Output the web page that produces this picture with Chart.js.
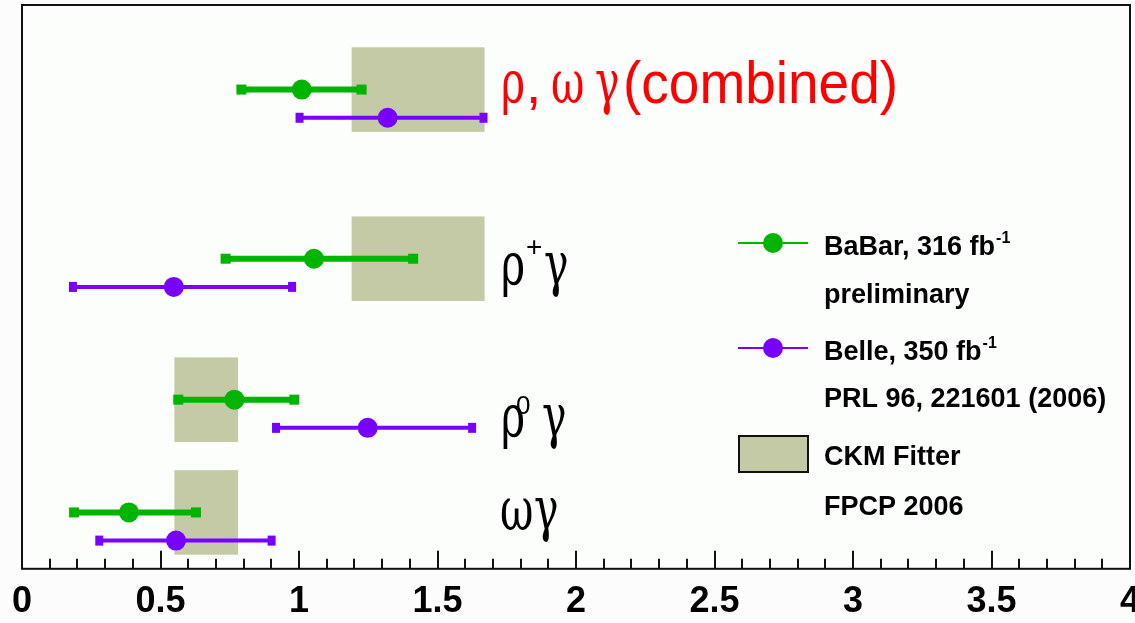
<!DOCTYPE html>
<html>
<head>
<meta charset="utf-8">
<script src="https://cdn.jsdelivr.net/npm/chart.js@4.4.1/dist/chart.umd.min.js"></script>
<style>
  html, body { margin: 0; padding: 0; background: #fbfcfb; overflow: hidden; }
  #wrap { position: relative; width: 1175px; height: 623px; }
</style>
</head>
<body>
<div id="wrap"><canvas id="chart"></canvas></div>
<script>
// channels, top to bottom: rho/omega combined, rho+, rho0, omega
const rowPos = [17, 11, 6, 2];   // vertical slot of each channel

// BaBar 316 fb-1 (preliminary)
const babarVal = [1.010, 1.054, 0.767, 0.386];
const babarLo  = [0.792, 0.735, 0.564, 0.188];
const babarHi  = [1.226, 1.412, 0.983, 0.628];

// Belle 350 fb-1
const belleVal = [1.320, 0.548, 1.248, 0.556];
const belleLo  = [1.002, 0.184, 0.917, 0.279];
const belleHi  = [1.666, 0.975, 1.625, 0.901];

// CKM Fitter (FPCP 2006) bands
const ckmLo = [1.19, 1.19, 0.55, 0.55];
const ckmHi = [1.67, 1.67, 0.78, 0.78];

const xTickLabels = ['0', '0.5', '1', '1.5', '2', '2.5', '3', '3.5', '4'];

const GREEN = '#00b400';
const PURPLE = '#7700ff';
const KHAKI = '#c5caa6';

function drawTxt(ctx, s, x, y, font, color, sx, sy) {
    ctx.save();
    ctx.translate(x, y);
    ctx.scale(sx || 1, sy || 1);
    ctx.font = font;
    ctx.fillStyle = color;
    ctx.textAlign = 'left';
    ctx.textBaseline = 'alphabetic';
    ctx.fillText(s, 0, 0);
    ctx.restore();
}

const GREEK = '41px "DejaVu Serif"';
const GSY = 1.48;
const GSX = 1.0;

const background = {
    id: 'background',
    beforeDraw(chart) {
        const { ctx, chartArea: a } = chart;
        ctx.save();
        ctx.fillStyle = '#fcfefc';
        ctx.fillRect(a.left, a.top, a.right - a.left, a.bottom - a.top);
        ctx.restore();
    }
};

// khaki CKM bands, then the error bars on top of them
const bandsAndBars = {
    id: 'bandsAndBars',
    beforeDatasetsDraw(chart) {
        const { ctx, scales: { x, y } } = chart;
        ctx.save();
        ctx.fillStyle = KHAKI;
        for (let i = 0; i < rowPos.length; i++) {
            const x0 = x.getPixelForValue(ckmLo[i]);
            const x1 = x.getPixelForValue(ckmHi[i]);
            const y0 = y.getPixelForValue(rowPos[i] + 1.5);
            const y1 = y.getPixelForValue(rowPos[i] - 1.5);
            ctx.fillRect(x0, y0, x1 - x0, y1 - y0);
        }

        const series = [
            { lo: babarLo, hi: babarHi, off: 0, color: GREEN, lw: 6, cw: 10, ch: 10 },
            { lo: belleLo, hi: belleHi, off: -1, color: PURPLE, lw: 4, cw: 8, ch: 10 }
        ];
        series.forEach(s => {
            ctx.strokeStyle = s.color;
            ctx.fillStyle = s.color;
            ctx.lineWidth = s.lw;
            for (let i = 0; i < rowPos.length; i++) {
                const py = y.getPixelForValue(rowPos[i] + s.off);
                const a = x.getPixelForValue(s.lo[i]);
                const b = x.getPixelForValue(s.hi[i]);
                ctx.beginPath();
                ctx.moveTo(a, py);
                ctx.lineTo(b, py);
                ctx.stroke();
                ctx.fillRect(a - s.cw / 2, py - s.ch / 2, s.cw, s.ch);
                ctx.fillRect(b - s.cw / 2, py - s.ch / 2, s.cw, s.ch);
            }
        });
        ctx.restore();
    }
};

const frameAndText = {
    id: 'frameAndText',
    afterDraw(chart) {
        const { ctx, chartArea: a, scales: { x } } = chart;
        ctx.save();
        // frame
        ctx.strokeStyle = '#111';
        ctx.lineWidth = 2;
        ctx.strokeRect(a.left, a.top, a.right - a.left, a.bottom - a.top);
        // inward ticks
        x.ticks.forEach(t => {
            const k = t.value * 2;
            const major = Math.abs(k - Math.round(k)) < 1e-6;
            const px = Math.round(x.getPixelForValue(t.value));
            ctx.beginPath();
            ctx.moveTo(px, a.bottom);
            ctx.lineTo(px, a.bottom - (major ? 18 : 10));
            ctx.stroke();
        });

        // channel labels
        const red = '#ff0000', blk = '#000';
        const sans55 = '55px "Liberation Sans"';
        drawTxt(ctx, 'ρ', 501, 103, GREEK, red, GSX, GSY);
        drawTxt(ctx, ',', 526, 103, sans55, red);
        drawTxt(ctx, 'ω', 551, 103, GREEK, red, GSX, GSY);
        drawTxt(ctx, 'γ', 595, 103, GREEK, red, GSX, GSY);
        drawTxt(ctx, '(combined)', 623, 103, sans55, red, 1, 1.08);

        drawTxt(ctx, 'ρ', 501, 285, GREEK, blk, GSX, GSY);
        drawTxt(ctx, '+', 526, 256, '28px "Liberation Sans"', blk);
        drawTxt(ctx, 'γ', 544, 285, GREEK, blk, GSX, GSY);

        drawTxt(ctx, 'ρ', 501, 437, GREEK, blk, GSX, GSY);
        drawTxt(ctx, '0', 516, 414, '26px "Liberation Sans"', blk, 1, 1.0);
        drawTxt(ctx, 'γ', 542, 437, GREEK, blk, GSX, GSY);

        drawTxt(ctx, 'ω', 500, 530, GREEK, blk, GSX, GSY);
        drawTxt(ctx, 'γ', 534, 530, GREEK, blk, GSX, GSY);

        // legend
        const lf = 'bold 27px "Liberation Sans"';
        const sf = 'bold 16px "Liberation Sans"';
        const supText = (s, x0, y0) => {
            drawTxt(ctx, s, x0, y0, lf, blk);
            ctx.font = lf;
            const w = ctx.measureText(s).width;
            drawTxt(ctx, '-1', x0 + w + 1, y0 - 12, sf, blk);
        };
        [[GREEN, 243], [PURPLE, 348]].forEach(([c, ly]) => {
            ctx.strokeStyle = c;
            ctx.lineWidth = 2;
            ctx.beginPath();
            ctx.moveTo(738, ly);
            ctx.lineTo(808, ly);
            ctx.stroke();
            ctx.fillStyle = c;
            ctx.beginPath();
            ctx.arc(773, ly, 10, 0, Math.PI * 2);
            ctx.fill();
        });
        supText('BaBar, 316 fb', 824, 255);
        drawTxt(ctx, 'preliminary', 824, 303, lf, blk);
        supText('Belle, 350 fb', 824, 360);
        drawTxt(ctx, 'PRL 96, 221601 (2006)', 824, 407, lf, blk);

        ctx.fillStyle = KHAKI;
        ctx.fillRect(739, 436, 69, 36);
        ctx.strokeStyle = '#111';
        ctx.lineWidth = 2;
        ctx.strokeRect(739, 436, 69, 36);
        drawTxt(ctx, 'CKM Fitter', 824, 465, lf, blk);
        drawTxt(ctx, 'FPCP 2006', 824, 515, lf, blk);
        ctx.restore();
    }
};

const ctx = document.getElementById('chart').getContext('2d');
const chart = new Chart(ctx, {
    type: 'scatter',
    data: {
        datasets: [
            {
                label: 'BaBar, 316 fb-1',
                data: babarVal.map((v, i) => ({ x: v, y: rowPos[i] })),
                pointRadius: 10,
                pointHoverRadius: 10,
                backgroundColor: GREEN,
                borderWidth: 0
            },
            {
                label: 'Belle, 350 fb-1',
                data: belleVal.map((v, i) => ({ x: v, y: rowPos[i] - 1 })),
                pointRadius: 10,
                pointHoverRadius: 10,
                backgroundColor: PURPLE,
                borderWidth: 0
            }
        ]
    },
    options: {
        responsive: true,
        maintainAspectRatio: false,
        animation: false,
        events: [],
        layout: { autoPadding: false, padding: { left: 22, right: 45, top: 5, bottom: -13 } },
        plugins: {
            legend: { display: false },
            tooltip: { enabled: false }
        },
        scales: {
            x: {
                type: 'linear',
                min: 0,
                max: 4,
                grid: { display: false, drawTicks: false },
                border: { display: false },
                ticks: {
                    stepSize: 0.1,
                    autoSkip: false,
                    maxRotation: 0,
                    minRotation: 0,
                    padding: 12,
                    color: '#000',
                    font: { family: 'Liberation Sans', size: 36, weight: 'bold' },
                    callback: (v) => {
                        const k = v * 2;
                        return Math.abs(k - Math.round(k)) < 1e-6 ? xTickLabels[Math.round(k)] : '';
                    }
                }
            },
            y: { type: 'linear', min: 0, max: 20, display: false }
        }
    },
    plugins: [background, bandsAndBars, frameAndText]
});
</script>
</body>
</html>
